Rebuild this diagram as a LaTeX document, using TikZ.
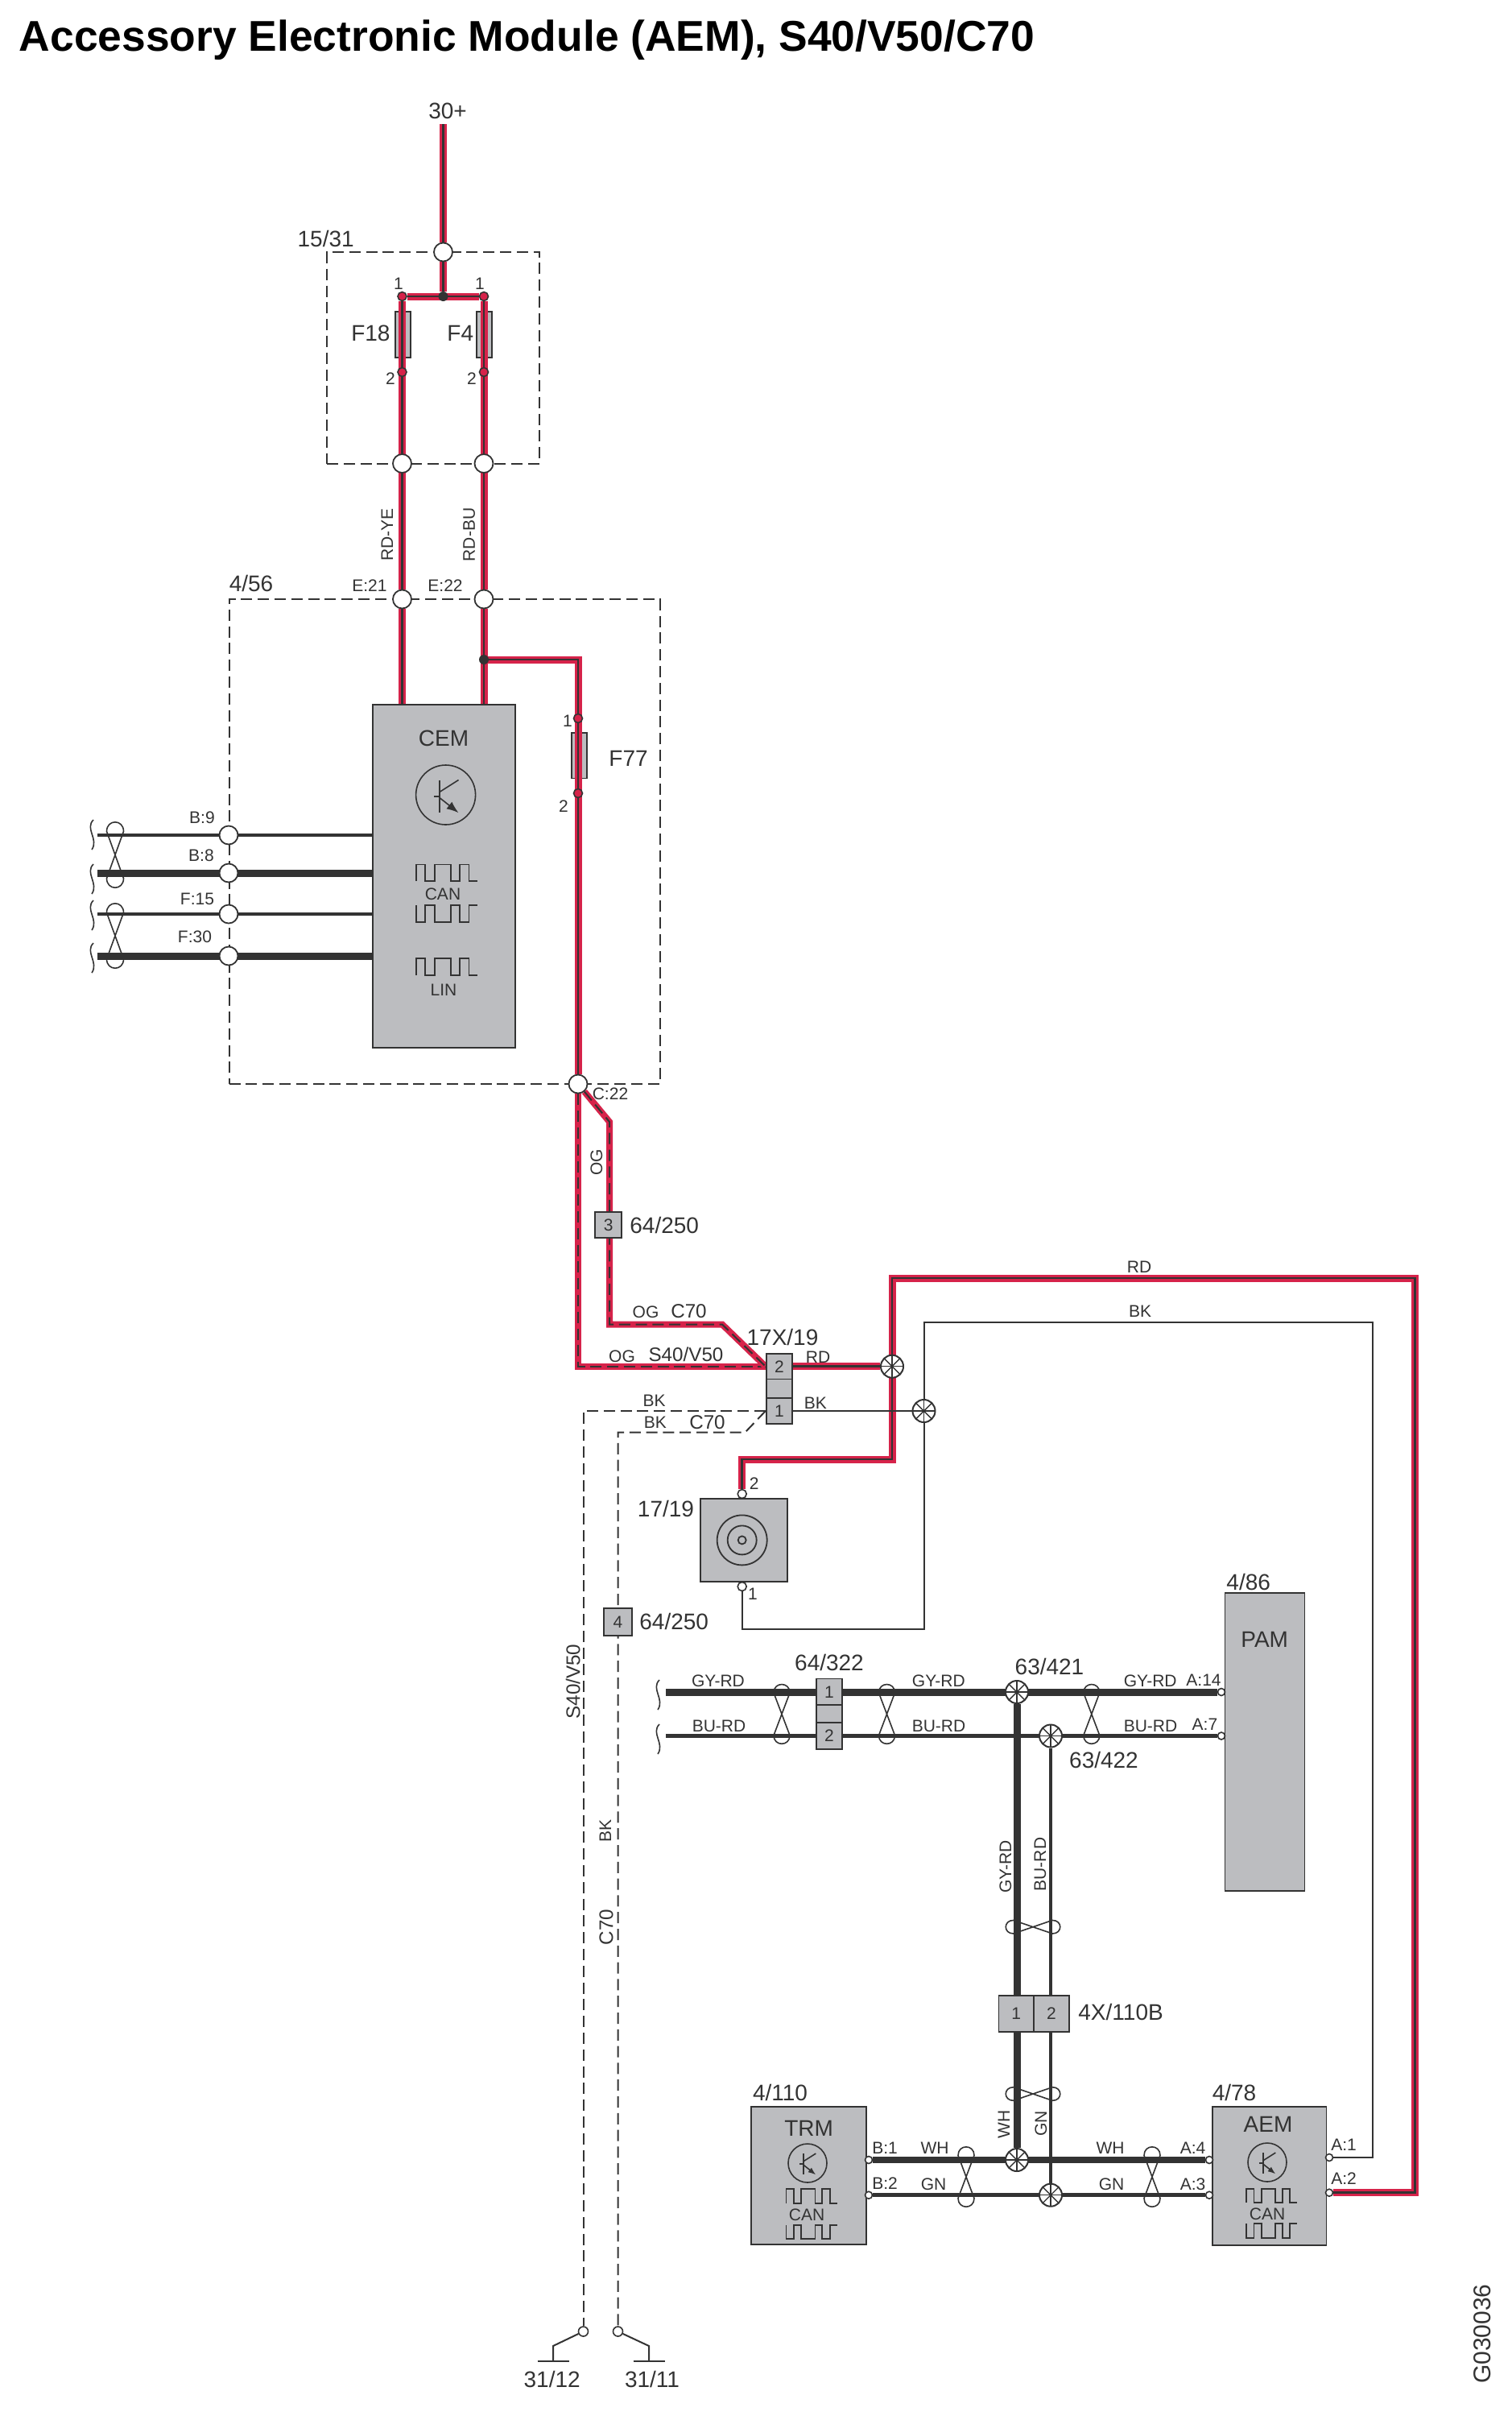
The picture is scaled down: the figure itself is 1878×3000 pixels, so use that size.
\documentclass[tikz,border=0pt]{standalone}
\usepackage{fontspec}
\setmainfont{Liberation Sans}
\usetikzlibrary{arrows.meta}

\definecolor{wirered}{HTML}{D6234A}
\definecolor{inkdark}{HTML}{333333}
\definecolor{boxgray}{HTML}{BCBDC0}

\pgfdeclarelayer{under}
\pgfdeclarelayer{wires}
\pgfsetlayers{under,wires,main}

\tikzset{
  big/.style={font=\fontsize{14}{16}\selectfont,text=inkdark,inner sep=0pt},
  mid/.style={font=\fontsize{12.1}{14}\selectfont,text=inkdark,inner sep=0pt},
  small/.style={font=\fontsize{10.5}{12}\selectfont,text=inkdark,inner sep=0pt},
  graybox/.style={rectangle,draw=inkdark,fill=boxgray,line width=0.9pt,inner sep=0pt},
  cell/.style={graybox,font=\fontsize{10.5}{12}\selectfont,text=inkdark},
  dashbox/.style={rectangle,draw=inkdark,line width=1pt,dash pattern=on 7pt off 3.4pt,inner sep=0pt},
  portc/.style={circle,draw=inkdark,fill=white,line width=0.9pt,minimum size=11.5pt,inner sep=0pt},
  pinc/.style={circle,draw=inkdark,fill=white,line width=0.8pt,minimum size=4.5pt,inner sep=0pt},
  fusepin/.style={circle,draw=inkdark,fill=wirered,line width=0.8pt,minimum size=5.5pt,inner sep=0pt},
  dotc/.style={circle,fill=inkdark,minimum size=6pt,inner sep=0pt},
  fuse/.style={graybox,line width=0.8pt},
  splice/.style={circle,draw=inkdark,fill=white,line width=1pt,minimum size=14pt,inner sep=0pt,
    path picture={\foreach \a/\b in {0/180,90/270,45/225,135/315}
      \draw[inkdark,line width=0.7pt] (path picture bounding box.\a) -- (path picture bounding box.\b);}},
  redwire/.style={draw=wirered,double=inkdark,line width=1.6pt,double distance=1.3pt},
  ogwire/.style={draw=wirered,line width=4pt,
    postaction={draw=inkdark,line width=1pt,dash pattern=on 7pt off 3.4pt}},
  thickwire/.style={draw=inkdark,line width=4.5pt},
  thinwire/.style={draw=inkdark,line width=2.4pt},
  hairwire/.style={draw=inkdark,line width=1pt},
  dashwire/.style={draw=inkdark,line width=1pt,dash pattern=on 7pt off 3.4pt},
  symbol/.style={draw=inkdark,line width=0.8pt},
}

\newcommand{\twist}[5]{
  \begin{scope}[shift={(#1,#2)},rotate=#5,x=#3*0.5pt,y=-#4*0.5pt]
    \draw[symbol] (-1,-.72) .. controls (-1,-1.1) and (1,-1.1) .. (1,-.72) -- (-1,.72)
      .. controls (-1,1.1) and (1,1.1) .. (1,.72) -- cycle;
  \end{scope}
}
\newcommand{\squiggle}[2]{
  \draw[symbol] (#1+2,#2) .. controls (#1-9,#2+11) and (#1+9,#2+24) .. (#1,#2+37);
}
\newcommand{\pulsetrain}[4]{
  \begin{scope}[shift={(#1,#2)},x=#3*0.5pt,y=#4*0.5pt]
    \draw[symbol,line width=0.9pt] (0,0) -- (0,1) -- (.15,1) -- (.15,0) -- (.3,0) -- (.3,1) -- (.57,1)
      -- (.57,0) -- (.71,0) -- (.71,1) -- (.86,1) -- (.86,0) -- (1,0);
  \end{scope}
}
\newcommand{\transistorsym}[4]{
  \begin{scope}[shift={(#2,#3)},x=#4*0.5pt,y=-#4*0.5pt]
    \node[circle,draw=inkdark,line width=0.8pt,minimum size=#4pt,inner sep=0pt] (#1) at (0,0) {};
    \draw[symbol] (-.2,-.5) -- (-.2,.6);
    \draw[symbol] (-.4,.05) -- (-.2,.05);
    \draw[symbol] (-.2,-.1) -- (.43,-.5);
    \draw[symbol,-{Latex[length=#4*0.2pt,width=#4*0.15pt]}] (-.2,.1) -- (.43,.6);
  \end{scope}
}

\begin{document}
\begin{tikzpicture}[x=0.5pt,y=-0.5pt]
  \useasboundingbox (0,0) rectangle (1878,3000);

  \node[anchor=base west,font=\bfseries\fontsize{26.7}{30}\selectfont,inner sep=0pt] (title) at (23.5,63)
    {Accessory Electronic Module (AEM), S40/V50/C70};
  \node[big,rotate=90,font=\fontsize{15}{17}\selectfont] (drawno) at (1841,2898) {G030036};

  % fuse box and CEM
  \begin{pgfonlayer}{under}
    \node[dashbox,minimum width=132pt,minimum height=131.25pt] (fusebox) at (538,444.25) {};
    \node[dashbox,minimum width=267.5pt,minimum height=301pt] (cembox) at (552,1045) {};
    \node[fuse,minimum width=9.5pt,minimum height=28.5pt] (f18) at (500.5,415.5) {};
    \node[fuse,minimum width=9.5pt,minimum height=28.5pt] (f4) at (601.5,415.5) {};
    \node[fuse,minimum width=9.5pt,minimum height=28.2pt] (f77) at (719.5,938.2) {};
  \end{pgfonlayer}

  \coordinate (feed) at (550.5,154);
  \node[portc] (c1531) at (550.5,313) {};
  \node[dotc] (dotfeed) at (550.5,368) {};
  \node[fusepin] (f18a) at (499.5,368) {};
  \node[fusepin] (f4a) at (601,368) {};
  \node[fusepin] (f18b) at (499.5,462) {};
  \node[fusepin] (f4b) at (601,462) {};
  \node[portc] (c18) at (499.5,575.5) {};
  \node[portc] (c4) at (601,575.5) {};
  \node[portc] (e21) at (499.5,744) {};
  \node[portc] (e22) at (601,744) {};
  \node[dotc] (dot77) at (601,819) {};
  \node[fusepin] (f77a) at (718,892) {};
  \node[fusepin] (f77b) at (718,985) {};
  \node[portc] (c22) at (718,1346) {};

  \node[big] (t30) at (556,138) {30+};
  \node[big] (t1531) at (404.7,296) {15/31};
  \node[big] (tf18) at (460.4,414) {F18};
  \node[big] (tf4) at (571.8,414) {F4};
  \node[small] (n18a) at (495,352) {1};
  \node[small] (n4a) at (596,352) {1};
  \node[small] (n18b) at (485,470) {2};
  \node[small] (n4b) at (586,470) {2};
  \node[small,rotate=90] (tye) at (481,664) {RD-YE};
  \node[small,rotate=90] (tbu) at (582.7,664) {RD-BU};
  \node[big] (t456) at (312,724) {4/56};
  \node[small] (te21) at (459,727.5) {E:21};
  \node[small] (te22) at (553,727.5) {E:22};
  \node[small] (n77a) at (705,895) {1};
  \node[small] (n77b) at (700,1001) {2};
  \node[big] (tf77) at (780.6,942) {F77};
  \node[small] (tc22) at (758,1358) {C:22};

  \node[graybox,minimum width=88.5pt,minimum height=213pt] (cem) at (551.5,1088) {};
  \node[big] (tcem) at (551,917) {CEM};
  \transistorsym{cemtr}{553.6}{987}{37}
  \pulsetrain{516.7}{1094}{76.6}{20.5}
  \node[small] (tcan) at (550,1110) {CAN};
  \pulsetrain{516.7}{1124}{76.6}{-21}
  \pulsetrain{516.7}{1211}{76.6}{21}
  \node[small] (tlin) at (551,1229) {LIN};

  \node[portc] (b9) at (284,1037) {};
  \node[portc] (b8) at (284,1084) {};
  \node[portc] (f15) at (284,1135) {};
  \node[portc] (f30) at (284,1187) {};
  \node[small] (tb9) at (251,1015) {B:9};
  \node[small] (tb8) at (250,1062) {B:8};
  \node[small] (tf15) at (245,1116) {F:15};
  \node[small] (tf30) at (242,1163) {F:30};
  \coordinate (busfar) at (121,1037);

  \begin{pgfonlayer}{wires}
    \draw[redwire] (feed) -- (c1531) -- (dotfeed);
    \draw[redwire] (f18a) -- (f4a);
    \draw[redwire] (f18a) -- (e21) -- (e21 |- cem.north);
    \draw[redwire] (f4a) -- (e22) -- (e22 |- cem.north);
    \draw[redwire] (dot77.center) -| (f77a.center) -- (c22);
    \draw[thinwire] (busfar |- b9) -- (b9 -| cem.west);
    \draw[thickwire] (busfar |- b8) -- (b8 -| cem.west);
    \draw[thinwire] (busfar |- f15) -- (f15 -| cem.west);
    \draw[thickwire] (busfar |- f30) -- (f30 -| cem.west);
  \end{pgfonlayer}

  \twist{143}{1061.5}{10.5}{40.5}{0}
  \twist{143}{1162}{10.5}{40}{0}
  \squiggle{114}{1018}
  \squiggle{114}{1073}
  \squiggle{114}{1118}
  \squiggle{114}{1171}

  % connector 17X/19 and horn
  \node[cell,minimum width=16.6pt,minimum height=15.7pt] (bl3) at (755.75,1521) {3};
  \node[big] (t3) at (782,1521) [anchor=west] {64/250};
  \node[cell,minimum width=17.3pt,minimum height=16.8pt] (bl4) at (767.4,2013.8) {4};
  \node[big] (t4) at (794,2013) [anchor=west] {64/250};
  \node[cell,minimum width=16.2pt,minimum height=15.7pt] (x2) at (968,1696.7) {2};
  \node[cell,minimum width=16.2pt,minimum height=12pt] (xm) at (968,1724.4) {};
  \node[cell,minimum width=16.2pt,minimum height=16pt] (x1) at (968,1752) {1};
  \node[big] (tx) at (972,1660) {17X/19};
  \node[splice] (srd) at (1108,1696.7) {};
  \node[splice] (sbk) at (1147.5,1752) {};

  \node[graybox,minimum width=53.8pt,minimum height=51.5pt] (horn) at (923.8,1912.5) {};
  \node[circle,draw=inkdark,line width=0.9pt,minimum size=31pt,inner sep=0pt] (ring1) at (921.7,1912.4) {};
  \node[circle,draw=inkdark,line width=0.9pt,minimum size=18pt,inner sep=0pt] (ring2) at (921.7,1912.4) {};
  \node[circle,draw=inkdark,line width=0.9pt,minimum size=5pt,inner sep=0pt] (ring3) at (921.7,1912.4) {};
  \node[pinc,minimum size=5.5pt] (h2) at (921.7,1855) {};
  \node[pinc,minimum size=5.5pt] (h1) at (921.7,1970) {};
  \node[small] (nh2) at (936.6,1842.6) {2};
  \node[small] (nh1) at (935,1979.4) {1};
  \node[big] (th) at (827,1873) {17/19};

  \node[small,rotate=90] (tog) at (741,1443.5) {OG};
  \node[small] (tog2) at (802,1629) {OG};
  \node[mid] (tc70a) at (855.5,1628) {C70};
  \node[small] (tog3) at (772.5,1684) {OG};
  \node[mid] (ts40a) at (852,1682) {S40/V50};
  \node[small] (trd) at (1016,1685) {RD};
  \node[small] (trd2) at (1415,1573) {RD};
  \node[small] (tbk) at (1416,1628) {BK};
  \node[small] (tbk1) at (812.6,1739) {BK};
  \node[small] (tbk2) at (813.8,1766.5) {BK};
  \node[mid] (tc70b) at (878.5,1766.5) {C70};
  \node[small] (tbk3) at (1012.8,1742.6) {BK};
  \node[mid,rotate=90] (ts40b) at (711.7,2088) {S40/V50};
  \node[small,rotate=90] (tbk4) at (752,2273) {BK};
  \node[mid,rotate=90] (tc70c) at (753,2393) {C70};

  \coordinate (ogA) at (757,1393);
  \coordinate (ogB) at (757,1644.5);
  \coordinate (ogC) at (897,1644.5);
  \coordinate (rdA) at (1108,1812);
  \coordinate (rdB) at (1108,1587);
  \coordinate (rdC) at (1757.7,1587);
  \coordinate (bkA) at (1704.7,1642);
  \coordinate (bkD) at (1147.5,2022.5);
  \coordinate (dkA) at (925.5,1778.5);

  % grounds
  \node[pinc,minimum size=6pt] (g12) at (724.5,2895) {};
  \node[pinc,minimum size=6pt] (g11) at (767.5,2895) {};
  \coordinate (g12a) at (687,2913);
  \coordinate (g12b) at (687,2932);
  \coordinate (g11a) at (806,2913);
  \coordinate (g11b) at (806,2932);
  \node[big] (t3112) at (685.7,2954) {31/12};
  \node[big] (t3111) at (810,2954) {31/11};
  \draw[symbol,line width=1pt] (g12) -- (g12a) -- (g12b);
  \draw[symbol,line width=1pt] (g11) -- (g11a) -- (g11b);
  \draw[symbol,line width=1pt] ([xshift=-9.75pt]g12b) -- ([xshift=9.75pt]g12b);
  \draw[symbol,line width=1pt] ([xshift=-9.75pt]g11b) -- ([xshift=9.75pt]g11b);

  % CAN bus
  \node[graybox,minimum width=49.5pt,minimum height=185pt] (pam) at (1571,2163) {};
  \node[big] (tpam) at (1570.7,2036) {PAM};
  \node[big] (t486) at (1550.7,1964) {4/86};
  \node[cell,minimum width=16pt,minimum height=16.5pt] (k1) at (1030,2101) {1};
  \node[cell,minimum width=16pt,minimum height=11pt] (km) at (1030,2128) {};
  \node[cell,minimum width=16pt,minimum height=16.8pt] (k2) at (1030,2155.5) {2};
  \node[big] (tk) at (1030,2064) {64/322};
  \node[splice] (s421) at (1263,2101) {};
  \node[big] (t421) at (1303.5,2069) {63/421};
  \node[splice] (s422) at (1305,2155.5) {};
  \node[big] (t422) at (1371,2185) {63/422};
  \node[pinc] (a14) at (1517,2101) {};
  \node[pinc] (a7) at (1517,2155.5) {};
  \coordinate (canfar) at (827,2101);
  \node[small] (ta14) at (1495,2086) {A:14};
  \node[small] (ta7) at (1496.4,2141.7) {A:7};
  \foreach \nm/\px in {g1/892,g2/1165.8,g3/1428.7}
    \node[small] (t\nm) at (\px,2087) {GY-RD};
  \foreach \nm/\px in {u1/893,u2/1166,u3/1429}
    \node[small] (t\nm) at (\px,2143) {BU-RD};
  \node[small,rotate=90] (tgyv) at (1249,2318) {GY-RD};
  \node[small,rotate=90] (tbuv) at (1292,2315) {BU-RD};

  \node[cell,minimum width=21.75pt,minimum height=22.35pt] (q1) at (1262.3,2500.4) {1};
  \node[cell,minimum width=21.75pt,minimum height=22.35pt] (q2) at (1306,2500.4) {2};
  \node[big,anchor=west] (tq) at (1339,2498) {4X/110B};
  \node[splice] (swh) at (1263,2682) {};
  \node[splice] (sgn) at (1305,2725.7) {};
  \node[small,rotate=90] (twhv) at (1247,2638) {WH};
  \node[small,rotate=90] (tgnv) at (1293,2637) {GN};

  \node[graybox,minimum width=71.5pt,minimum height=85.5pt] (trm) at (1004.5,2701.5) {};
  \node[graybox,minimum width=70.75pt,minimum height=86pt] (aem) at (1576.75,2702) {};
  \node[big] (t4110) at (969,2598) {4/110};
  \node[big] (t478) at (1533,2598) {4/78};
  \node[big] (ttrm) at (1004.6,2643) {TRM};
  \node[big] (taem) at (1575,2638) {AEM};
  \transistorsym{trmtr}{1003}{2686}{24}
  \transistorsym{aemtr}{1574}{2685}{24}
  \pulsetrain{976.4}{2736}{63.2}{18}
  \node[small] (tcan1) at (1002,2750) {CAN};
  \pulsetrain{976.4}{2763}{63.2}{-17}
  \pulsetrain{1548}{2735}{63}{17}
  \node[small] (tcan2) at (1574,2749) {CAN};
  \pulsetrain{1548}{2761}{63}{-18}
  \node[pinc] (b1) at (1079,2682) {};
  \node[pinc] (b2) at (1079,2725.7) {};
  \node[pinc] (a4) at (1502,2682) {};
  \node[pinc] (a3) at (1502,2725.7) {};
  \node[pinc] (a1) at (1651,2679) {};
  \node[pinc] (a2) at (1651,2722.7) {};
  \node[small] (tb1) at (1099,2667) {B:1};
  \node[small] (tb2) at (1099,2711) {B:2};
  \node[small] (twh1) at (1161,2667) {WH};
  \node[small] (tgn1) at (1159.6,2712) {GN};
  \node[small] (twh2) at (1379,2667) {WH};
  \node[small] (tgn2) at (1380.6,2712) {GN};
  \node[small] (ta4) at (1481.6,2667) {A:4};
  \node[small] (ta3) at (1481.6,2712) {A:3};
  \node[small] (ta1) at (1669,2663) {A:1};
  \node[small] (ta2) at (1669,2705) {A:2};

  \begin{pgfonlayer}{wires}
    \draw[ogwire] (c22) |- (x2.west);
    \draw[ogwire] (c22) -- (ogA) -- (ogB) -- (ogC) -- (x2.west);
    \draw[redwire] (x2.east) -- (srd);
    \draw[redwire] (h2) |- (rdA) -- (rdB) -- (rdC) |- (a2);
    \draw[hairwire] (x1.east) -- (sbk);
    \draw[hairwire] (a1) -| (bkA) -- (sbk |- bkA) -- (sbk) -- (bkD) -| (h1);
    \draw[hairwire] (h2) -- (ring3);
    \draw[hairwire] (ring1) -- (h1);
    \draw[dashwire] (x1.west) -| (g12);
    \draw[dashwire] (x1.west) -- (dkA) -| (g11);
    \draw[thickwire] (canfar) -- (a14);
    \draw[thinwire] (canfar |- a7) -- (a7);
    \draw[thickwire] (s421) -- (swh);
    \draw[thinwire] (s422) -- (sgn);
    \draw[line width=4pt,inkdark] (b1) -- (a4);
    \draw[thinwire] (b2) -- (a3);
  \end{pgfonlayer}

  \foreach \tx in {971,1101.5,1355.8}
    {\twist{\tx}{2128.4}{10}{36.7}{0}}
  \foreach \tx in {1200,1431}
    {\twist{\tx}{2703}{10}{37}{0}}
  \twist{1283}{2392.7}{8.3}{33.6}{90}
  \twist{1283}{2600}{8.3}{33.6}{90}
  \squiggle{817}{2086}
  \squiggle{817}{2141}
\end{tikzpicture}
\end{document}
